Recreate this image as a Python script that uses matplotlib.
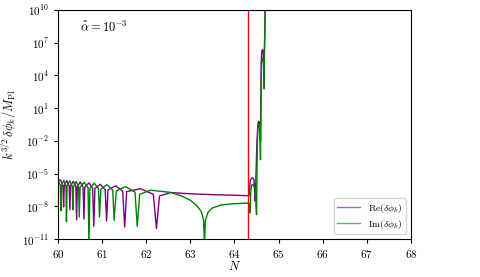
import numpy as np
import matplotlib
matplotlib.use("Agg")
import matplotlib.pyplot as plt
from matplotlib.ticker import FuncFormatter, FixedLocator

plt.rcParams["mathtext.fontset"] = "cm"
plt.rcParams["font.family"] = "serif"
plt.rcParams["font.serif"] = ["DejaVu Serif"]

# Re(dphi_k): e-folds and log10 amplitude
re_N = [60.0, 60.06, 60.11, 60.125, 60.14, 60.197, 60.252, 60.268, 60.284, 60.344,
        60.403, 60.42, 60.437, 60.503, 60.567, 60.586, 60.605, 60.698, 60.784, 60.81,
        60.836, 60.955, 61.068, 61.10, 61.132, 61.305, 61.465, 61.51, 61.555, 61.87,
        62.16, 62.23, 62.30, 62.55, 63.0, 63.5, 64.0, 64.31,
        64.33, 64.345, 64.36, 64.39, 64.42, 64.44, 64.455, 64.47, 64.51, 64.53,
        64.545, 64.56, 64.575, 64.585, 64.592, 64.605, 64.62, 64.635, 64.65, 64.66,
        64.668, 64.675, 64.69, 64.70]
re_log = [-5.6, -5.6, -6.1, -8.06, -6.1, -5.64, -6.12, -8.31, -6.13, -5.7,
          -6.18, -9.23, -6.19, -5.76, -6.24, -9.17, -6.26, -5.85, -6.34, -9.84,
          -6.36, -5.98, -6.46, -9.35, -6.49, -6.12, -6.6, -9.9, -6.65, -6.38,
          -6.9, -10.03, -7.05, -6.74, -6.85, -6.93, -6.98, -7.03,
          -7.05, -6.3, -5.6, -5.4, -5.4, -5.6, -6.3, -7.5, -2.0, -0.5,
          -0.23, -0.23, -0.5, -1.5, -2.0, 5.2, 6.2, 6.37, 6.2, 5.6,
          4.5, 5.5, 8.5, 12.0]

# Im(dphi_k)
im_N = [60.0, 60.052, 60.065, 60.078, 60.128, 60.178, 60.19, 60.204, 60.263, 60.322,
        60.336, 60.35, 60.408, 60.466, 60.48, 60.50, 60.59, 60.68, 60.70, 60.722,
        60.82, 60.917, 60.94, 60.97, 61.105, 61.24, 61.27, 61.32, 61.53, 61.745,
        61.795, 61.85, 62.1, 62.55, 62.8, 63.0, 63.15, 63.25, 63.3, 63.32,
        63.34, 63.4, 63.5, 63.7, 64.0, 64.31,
        64.335, 64.355, 64.37, 64.39, 64.42, 64.45, 64.475, 64.50, 64.515, 64.53,
        64.55, 64.57, 64.58, 64.59, 64.60, 64.615, 64.635, 64.655, 64.665, 64.672,
        64.68, 64.69, 64.70]
im_log = [-5.58, -6.08, -8.4, -6.1, -5.62, -6.12, -9.41, -6.14, -5.66, -6.17,
          -8.31, -6.18, -5.72, -6.22, -8.98, -6.24, -5.8, -6.3, -11.5, -6.33,
          -5.88, -6.38, -8.98, -6.42, -6.02, -6.52, -9.29, -6.58, -6.2, -6.7,
          -9.84, -6.9, -6.52, -6.72, -7.05, -7.45, -7.95, -8.5, -9.3, -11.5,
          -9.3, -8.55, -8.15, -7.87, -7.76, -7.7,
          -7.75, -8.6, -6.6, -6.05, -6.0, -6.2, -6.9, -8.77, -3.0, -0.9,
          -0.5, -0.9, -2.0, -3.73, 2.0, 5.1, 5.6, 5.3, 4.5, 2.76,
          6.0, 9.0, 12.0]

N_end = 64.31
x_ticks = [60, 61, 62, 63, 64, 65, 66, 67, 68]
y_ticks = [1e-11, 1e-8, 1e-5, 1e-2, 1e1, 1e4, 1e7, 1e10]

fig = plt.figure(figsize=(4.8, 2.77), dpi=100)
ax = fig.add_axes([0.121, 0.137, 0.735, 0.827])

ax.plot(re_N, 10.0 ** np.array(re_log), color="purple", lw=1.0, label=r"${\rm Re}(\delta\phi_k)$")
ax.plot(im_N, 10.0 ** np.array(im_log), color="green", lw=1.0, label=r"${\rm Im}(\delta\phi_k)$")
ax.axvline(N_end, color="red", lw=1.0)

ax.set_yscale("log")
ax.set_xlim(60, 68)
ax.set_ylim(1e-11, 1e10)
ax.xaxis.set_major_locator(FixedLocator(x_ticks))
ax.yaxis.set_major_locator(FixedLocator(y_ticks))
ax.yaxis.set_minor_locator(FixedLocator([]))
ax.xaxis.set_major_formatter(FuncFormatter(lambda v, p: r"$%d$" % v))
ax.yaxis.set_major_formatter(FuncFormatter(lambda v, p: r"$10^{%d}$" % round(np.log10(v))))
ax.tick_params(labelsize=8, length=3, width=0.8)

ax.set_xlabel(r"$N$", fontsize=9, labelpad=0)
ax.set_ylabel(r"$k^{3/2}\,\delta\phi_k/M_{\rm Pl}$", fontsize=9, labelpad=2)
ax.text(0.062, 0.925, r"$\tilde{\alpha}=10^{-3}$", transform=ax.transAxes, fontsize=9,
        va="center", ha="left")

leg = ax.legend(loc="lower right", fontsize=7, handlelength=2.4, labelspacing=0.3,
                borderpad=0.35, framealpha=0.8)
for line in leg.get_lines():
    line.set_alpha(0.6)

fig.savefig("out.png", dpi=100)
